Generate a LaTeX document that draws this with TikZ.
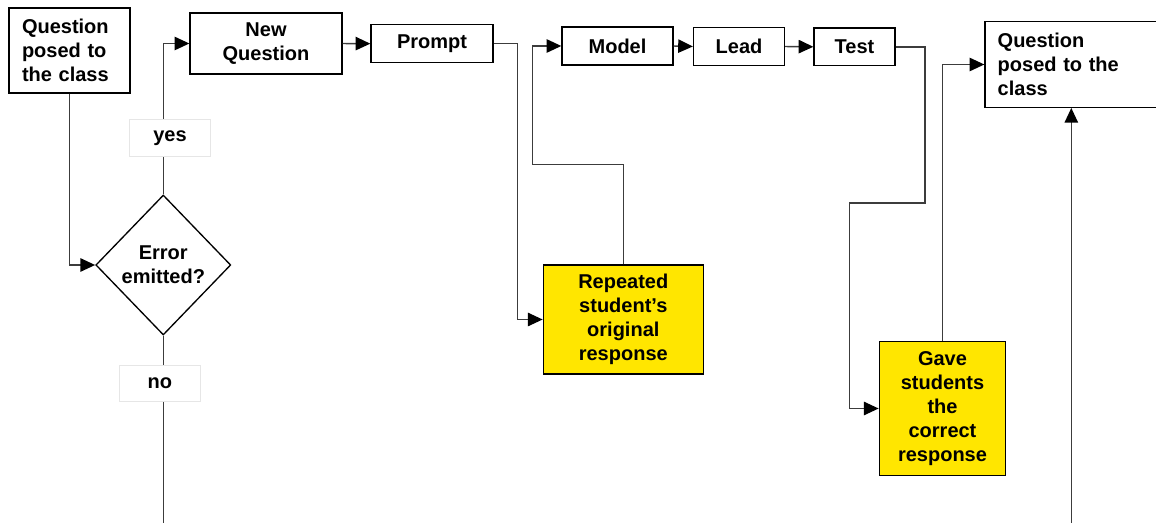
\documentclass[tikz,border=0pt]{standalone}
\usepackage{fontspec}
\setmainfont{Liberation Sans}
\usetikzlibrary{shapes.geometric,arrows.meta}
\definecolor{noteyellow}{RGB}{255,230,0}
\definecolor{wire}{RGB}{60,60,60}
\definecolor{tagedge}{RGB}{230,230,230}
\begin{document}
\begin{tikzpicture}[x=0.75pt,y=-0.75pt,
  every node/.style={font=\bfseries\fontsize{15pt}{18pt}\selectfont, inner sep=0pt},
  box/.style={draw=black, line width=1pt, fill=white, align=center},
  note/.style={box, fill=noteyellow},
  decision/.style={diamond, draw=black, line width=1pt, fill=white, align=center},
  tag/.style={draw=tagedge, line width=0.6pt, fill=white, minimum width=60.5pt, minimum height=27.5pt},
  wirearrow/.style={draw=wire, line width=1.1pt, -{Triangle[length=11pt,width=10pt,color=black]}},
  wireplain/.style={draw=wire, line width=1.1pt}]
  \clip (0,0) rectangle (1156,523);
  \useasboundingbox (0,0) rectangle (1156,523);

  % process boxes
  \node[box, minimum width=90.75pt, minimum height=63.75pt, text width=71.25pt, align=left]
    (q1) at (69.5,50.5) {Question\\posed to\\the class};
  \node[box, minimum width=114pt, minimum height=45.75pt] (newq) at (266,43.5) {New\\Question};
  \node[box, minimum width=91.5pt, minimum height=28.5pt] (prompt) at (432,43.7) {Prompt};
  \node[box, minimum width=83.25pt, minimum height=28.5pt] (model) at (617.5,46) {Model};
  \node[box, minimum width=68.25pt, minimum height=28.2pt] (lead) at (739,46.5) {Lead};
  \node[box, minimum width=60.75pt, minimum height=28.2pt] (test) at (854.5,46.8) {Test};
  \node[box, minimum width=138.75pt, minimum height=64.2pt, text width=119.7pt, align=left]
    (q2) at (1077.5,64.5) {Question\\posed to the\\class};

  % decision
  \node[decision, minimum width=101.25pt, minimum height=105pt] (dec) at (163.3,265) {Error\\emitted?};

  % highlighted responses
  \node[note, minimum width=120pt, minimum height=81.75pt] (y1) at (623.3,319.5)
    {Repeated\\student’s\\original\\response};
  \node[note, minimum width=94.8pt, minimum height=100.2pt] (y2) at (942.5,408.5)
    {Gave\\students\\the\\correct\\response};

  % loose ends at the lower edge
  \coordinate (noend) at (163.3,530);
  \coordinate (qin) at (1071.3,530);

  % connectors
  \draw[wirearrow] (q1.south) |- (dec.west);
  \draw[wirearrow] (dec.north) |- (newq.west);
  \draw[wireplain] (dec.south) -- (noend);
  \draw[wirearrow] (newq.east) -- (prompt.west);
  \draw[wirearrow] (prompt.east) -| (517.7,200) |- (y1.west);
  \draw[wirearrow] (y1.north) |- (532.3,164.3) |- (model.west);
  \draw[wirearrow] (model.east) -- (lead.west);
  \draw[wirearrow] (lead.east) -- (test.west);
  \draw[wirearrow] (test.east) -| (925,203) -- (849.3,203) |- (y2.west);
  \draw[wirearrow] (y2.north) |- (q2.west);
  \draw[wirearrow] (qin) -- (qin |- q2.south);

  % branch labels
  \node[tag] (yes) at (170,137.7) {yes};
  \node[tag] (no) at (159.8,383.5) {no};
\end{tikzpicture}
\end{document}
